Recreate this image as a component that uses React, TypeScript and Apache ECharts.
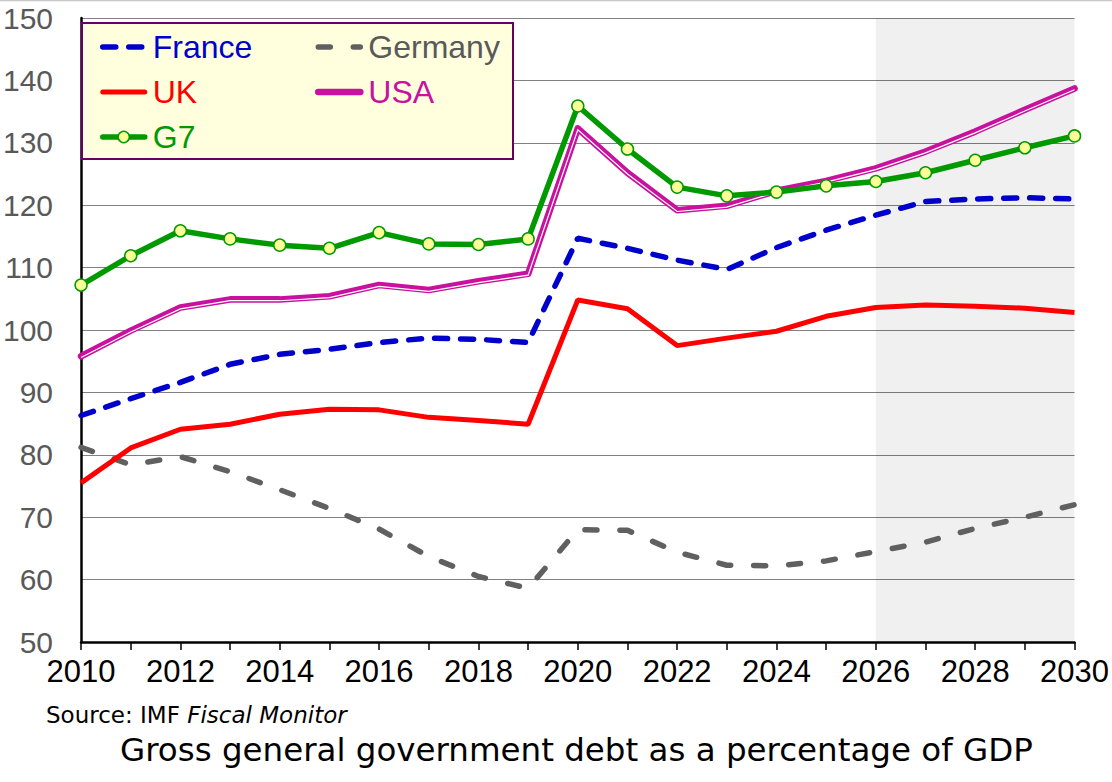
import React, { useEffect, useRef } from "react";
import * as echarts from "echarts";

const years = ["2010","2011","2012","2013","2014","2015","2016","2017","2018","2019","2020","2021","2022","2023","2024","2025","2026","2027","2028","2029","2030"];
const france = [86.3, 89.0, 91.6, 94.5, 96.1, 96.9, 98.0, 98.7, 98.5, 98.0, 114.7, 113.1, 111.2, 109.7, 113.2, 116.0, 118.4, 120.6, 121.0, 121.2, 121.0];
const germany = [81.2, 78.4, 79.7, 77.3, 74.4, 71.4, 68.1, 63.7, 60.5, 58.6, 68.0, 67.9, 64.4, 62.3, 62.2, 63.0, 64.5, 66.0, 68.2, 70.0, 72.0];
const uk = [75.5, 81.1, 84.1, 84.9, 86.5, 87.3, 87.2, 86.0, 85.5, 84.9, 104.8, 103.4, 97.5, 98.7, 99.8, 102.2, 103.6, 104.0, 103.8, 103.5, 102.8];
const usa = [95.8, 99.9, 103.6, 104.9, 104.9, 105.4, 107.2, 106.4, 107.8, 109.0, 132.3, 125.2, 119.2, 119.9, 122.3, 123.9, 125.9, 128.6, 131.8, 135.3, 138.7];
const g7 = [107.2, 111.9, 115.9, 114.6, 113.6, 113.1, 115.6, 113.8, 113.7, 114.6, 135.9, 129.0, 122.9, 121.5, 122.1, 123.1, 123.8, 125.2, 127.2, 129.2, 131.1];
const forecastStart = "2026";
const forecastEnd = "2030";
const legendColumn1 = ["France", "UK", "G7"];
const legendColumn2 = ["Germany", "USA"];
const colors: Record<string, string> = {
  France: "#0000CC",
  Germany: "#606060",
  UK: "#FF0000",
  USA: "#C8119E",
  G7: "#009900",
};
const textColors: Record<string, string> = {
  France: "#0000CC",
  Germany: "#595959",
  UK: "#FF0000",
  USA: "#C8119E",
  G7: "#009900",
};
const lineWidths: Record<string, number> = { France: 5.5, Germany: 5.5, UK: 5, USA: 6.6, G7: 5.5 };
const lineTypes: Record<string, any> = {
  France: [13, 13],
  Germany: [12, 23],
  UK: "solid",
  USA: "solid",
  G7: "solid",
};

const FONT = "'Liberation Sans', Arial, sans-serif";

export default function App() {
  const ref = useRef<HTMLDivElement>(null);
  useEffect(() => {
    if (!ref.current) return;
    const chart = echarts.init(ref.current, null, { renderer: "svg" });
    const legendItem = (n: string) => ({
      name: n,
      textStyle: { fontFamily: FONT, fontSize: 32, color: textColors[n] },
      itemStyle:
        n === "G7"
          ? { color: "#FFFF99", borderColor: colors.G7, borderWidth: 1.5 }
          : { opacity: 0 },
      lineStyle: {
        color: colors[n],
        width: lineWidths[n],
        type: lineTypes[n],
        cap: "round",
        opacity: 1,
      },
    });
    const legendBase = {
      top: 31,
      orient: "vertical",
      itemWidth: 42,
      itemHeight: 14,
      itemGap: 13,
      padding: 0,
      z: 10,
      textStyle: { fontFamily: FONT, fontSize: 32, padding: [0, 0, 0, 3] },
    };
    const option: any = {
      animation: false,
      backgroundColor: "#ffffff",
      grid: { left: 81, right: 36, top: 18, bottom: 140, containLabel: false },
      legend: [
        { ...legendBase, left: 100, data: legendColumn1.map(legendItem) },
        { ...legendBase, left: 315, data: legendColumn2.map(legendItem) },
      ],
      xAxis: {
        type: "category",
        data: years,
        boundaryGap: false,
        axisLine: { show: true, lineStyle: { color: "#000", width: 2.5 } },
        axisTick: { show: true, interval: 0, length: 8, lineStyle: { color: "#000", width: 1.5 } },
        axisLabel: { interval: 1, color: "#000", fontSize: 31, fontFamily: FONT, margin: 14 },
        splitLine: { show: false },
      },
      yAxis: {
        type: "value",
        min: 50,
        max: 150,
        interval: 10,
        axisLine: { show: true, lineStyle: { color: "#000", width: 2.5 } },
        axisTick: { show: false },
        axisLabel: { color: "#595959", fontSize: 30, fontFamily: FONT, margin: 28 },
        splitLine: { show: true, lineStyle: { color: "#808080", width: 1 } },
      },
      series: [
        {
          name: "_shade",
          type: "line",
          data: [],
          z: 1,
          silent: true,
          markArea: {
            silent: true,
            itemStyle: { color: "rgba(0,0,0,0.059)" },
            data: [[{ xAxis: forecastStart }, { xAxis: forecastEnd }]],
          },
        },
        {
          name: "Germany",
          type: "line",
          data: germany,
          symbol: "none",
          z: 3,
          itemStyle: { color: colors.Germany },
          lineStyle: { color: colors.Germany, width: lineWidths.Germany, type: lineTypes.Germany, cap: "round" },
        },
        {
          name: "France",
          type: "line",
          data: france,
          symbol: "none",
          z: 4,
          itemStyle: { color: colors.France },
          lineStyle: { color: colors.France, width: lineWidths.France, type: lineTypes.France, cap: "round" },
        },
        {
          name: "UK",
          type: "line",
          data: uk,
          symbol: "none",
          z: 5,
          itemStyle: { color: colors.UK },
          lineStyle: { color: colors.UK, width: lineWidths.UK },
        },
        {
          name: "USA",
          type: "line",
          data: usa,
          symbol: "none",
          z: 6,
          itemStyle: { color: colors.USA },
          lineStyle: { color: colors.USA, width: lineWidths.USA, cap: "round", join: "round" },
        },
        {
          name: "_usaInner",
          type: "custom",
          z: 7,
          silent: true,
          data: usa.map((v, i) => [i, v]),
          encode: { x: 0, y: 1 },
          renderItem: (params: any, api: any) => {
            if (params.dataIndex !== 0) return null;
            const pts = usa.map((v, i) => {
              const p = api.coord([i, v]);
              return [p[0], p[1] + 1.3];
            });
            return {
              type: "polyline",
              shape: { points: pts },
              style: { stroke: "#ffffff", lineWidth: 1.2, fill: "none" },
            };
          },
        },
        {
          name: "G7",
          type: "line",
          data: g7,
          symbol: "circle",
          symbolSize: 12,
          z: 8,
          itemStyle: { color: "#FFFF99", borderColor: colors.G7, borderWidth: 1.5 },
          lineStyle: { color: colors.G7, width: lineWidths.G7 },
        },
      ],
      graphic: [
        {
          type: "line",
          shape: { x1: 0, y1: 0.5, x2: 1112, y2: 0.5 },
          style: { stroke: "#c8c8c8", lineWidth: 1.5 },
          silent: true,
        },
        {
          type: "rect",
          z: 9,
          silent: true,
          shape: { x: 82, y: 23, width: 431, height: 136 },
          style: { fill: "#FFFFDD", stroke: "#660066", lineWidth: 2 },
        },
        {
          type: "text",
          left: 46,
          top: 703,
          style: {
            text: "{a|Source: IMF }{b|Fiscal Monitor}",
            rich: {
              a: { fontSize: 23, fontFamily: "'DejaVu Sans', sans-serif", fill: "#000" },
              b: { fontSize: 23, fontFamily: "'DejaVu Sans', sans-serif", fontStyle: "italic", fill: "#000" },
            },
          },
        },
        {
          type: "text",
          left: 120,
          top: 733,
          style: {
            text: "Gross general government debt as a percentage of GDP",
            fontSize: 32.5,
            fontFamily: "'DejaVu Sans', sans-serif",
            fill: "#000",
          },
        },
      ],
    };
    chart.setOption(option);
    return () => chart.dispose();
  }, []);
  return (
    <div
      ref={ref}
      style={{ position: "fixed", left: 0, top: 0, width: 1112, height: 782, background: "#fff" }}
    />
  );
}
